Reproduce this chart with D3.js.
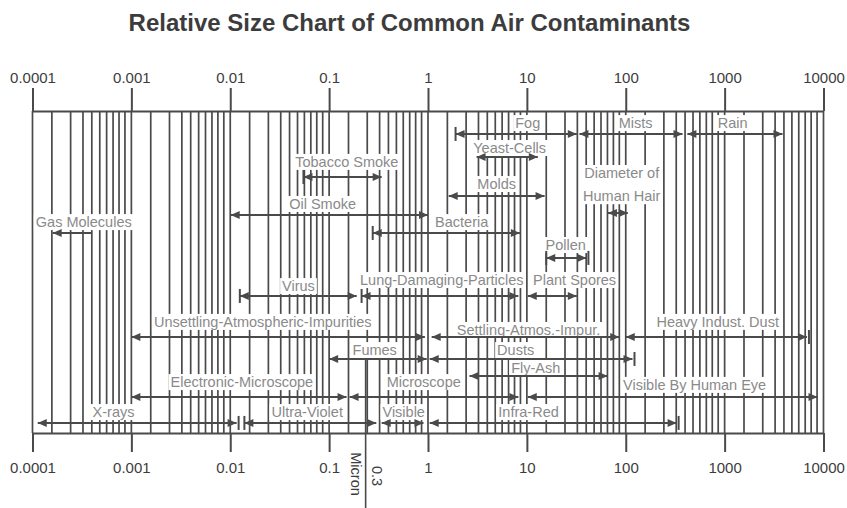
<!DOCTYPE html>
<html>
<head>
<meta charset="utf-8">
<script src="https://cdn.jsdelivr.net/npm/d3@7"></script>
<style>
  body { margin: 0; background: #fff; }
  text { font-family: "Liberation Sans", Arial, sans-serif; }
</style>
</head>
<body>
<svg id="chart" width="847" height="508"></svg>
<script>
// chart text + scale values (sizes in microns)
const title = 'Relative Size Chart of Common Air Contaminants';
const decades = [0.0001, 0.001, 0.01, 0.1, 1, 10, 100, 1000, 10000];
const tickLabels = ['0.0001', '0.001', '0.01', '0.1', '1', '10', '100', '1000', '10000'];
// the minor lines on this sheet are not on exact log steps
const gridSteps = [1.57, 2.43, 3.24, 3.98, 4.79, 5.62, 6.53, 7.5, 8.61];
const micronMark = 0.234;

const names = [
  'Fog', 'Mists', 'Rain', 'Yeast-Cells', 'Tobacco Smoke', 'Diameter of\nHuman Hair',
  'Molds', 'Oil Smoke', 'Gas Molecules', 'Bacteria', 'Pollen', 'Virus',
  'Lung-Damaging-Particles', 'Plant Spores', 'Unsettling-Atmospheric-Impurities',
  'Settling-Atmos.-Impur.', 'Heavy Indust. Dust', 'Fumes', 'Dusts', 'Fly-Ash',
  'Electronic-Microscope', 'Microscope', 'Visible By Human Eye', 'X-rays',
  'Ultra-Violet', 'Visible', 'Infra-Red'
];
const sizeFrom = [1.9, 34, 420, 3.1, 0.055, 66, 1.62, 0.0101, 0.00016, 0.276, 15.7, 0.0125,
  0.213, 10.2, 0.001, 1.09, 100, 0.1, 1.04, 2.63, 0.001, 0.161, 10.2, 0.000113, 0.0139, 0.34, 1.04];
const sizeTo = [32, 375, 3850, 12.9, 0.34, 105, 15.1, 1.0, 0.0004, 8.5, 40, 0.19,
  8.2, 32, 0.93, 86, 6800, 0.97, 117, 65.6, 0.15, 8.2, 8700, 0.0116, 0.30, 0.9, 327];
// row of the arrow and of its label (0 = top scale line, 16 = bottom scale line)
const row = [1.14, 1.14, 1.14, 2.29, 3.28, 5.07, 4.22, 5.17, 6.06, 6.06, 7.3, 9.19,
  9.19, 9.19, 11.23, 11.23, 11.23, 12.32, 12.32, 13.17, 14.21, 14.21, 14.21, 15.5, 15.5, 15.5, 15.5];
const labelAt = [10.2, 126, 1205, 6.7, 0.151, 91, 4.95, 0.086, 0.00033, 2.19, 24.7, 0.049,
  1.38, 30.4, 0.0213, 10.4, 851, 0.289, 7.7, 12.3, 0.0131, 0.905, 497, 0.00066, 0.06, 0.568, 10.4];
const labelRow = [0.6, 0.6, 0.6, 1.84, 2.53, 3.08, 3.63, 4.62, 5.52, 5.52, 6.66, 8.7,
  8.4, 8.4, 10.48, 10.88, 10.48, 11.88, 11.88, 12.77, 13.47, 13.47, 13.61, 14.96, 14.96, 14.96, 14.96];

// arrow ends: | = stop bar, < > = heads
const endStyle = {
  'Fog': '|<>', 'Tobacco Smoke': '|<>', 'Gas Molecules': '<', 'Bacteria': '|<>',
  'Pollen': '|<>|', 'Virus': '|<>', 'Lung-Damaging-Particles': '|<>',
  'Heavy Indust. Dust': '<>|', 'Dusts': '<>|', 'X-rays': '<>|',
  'Ultra-Violet': '|<>', 'Infra-Red': '<>|'
};

const items = names.map((n, i) => ({
  name: n, from: sizeFrom[i], to: sizeTo[i], row: row[i],
  labelAt: labelAt[i], labelRow: labelRow[i], ends: endStyle[n] || '<>'
}));

const ink = '#4a4a4a',
  labelInk = '#8a8a8a';

const svg = d3.select('#chart');
const x = d3.scaleLog().domain([0.0001, 10000]).range([32.5, 823.5]);
const y = d3.scaleLinear().domain([0, 16]).range([111, 433]);

svg.append('text')
  .attr('x', 409.5).attr('y', 31)
  .attr('text-anchor', 'middle')
  .attr('font-size', 24).attr('font-weight', 'bold')
  .attr('fill', '#3c3c3c')
  .text(title);

// grid lines
let gridVals = [];
decades.forEach(d => {
  gridVals.push(d);
  if (d < 10000) gridSteps.forEach(s => gridVals.push(s * d));
});

svg.append('g').attr('class', 'grid')
  .selectAll('line').data(gridVals).enter().append('line')
  .attr('x1', d => x(d)).attr('x2', d => x(d))
  .attr('y1', y(0)).attr('y2', y(16))
  .attr('stroke', ink).attr('stroke-width', 1.7);

// axes
const fmt = d => tickLabels[decades.indexOf(d)];
let topAxis = svg.append('g')
  .attr('transform', `translate(0, ${y(0)})`)
  .call(d3.axisTop(x).tickValues(decades).tickFormat(fmt).tickSize(23).tickSizeOuter(0).tickPadding(5));
let bottomAxis = svg.append('g')
  .attr('transform', `translate(0, ${y(16)})`)
  .call(d3.axisBottom(x).tickValues(decades).tickFormat(fmt).tickSize(19).tickSizeOuter(0).tickPadding(10));

[topAxis, bottomAxis].forEach(a => {
  a.attr('font-family', null).attr('font-size', null);
  a.select('.domain').attr('stroke', ink).attr('stroke-width', 2.2);
  a.selectAll('.tick line').attr('stroke', ink).attr('stroke-width', 2);
  a.selectAll('.tick text').attr('fill', '#3c3c3c').attr('font-size', 15);
});

// labels on white boxes
const boxes = svg.append('g').attr('class', 'boxes');
const labels = svg.append('g').attr('class', 'labels');

items.forEach(d => {
  let lines = d.name.split('\n');
  let t = labels.append('text')
    .attr('x', x(d.labelAt))
    .attr('y', y(d.labelRow))
    .attr('text-anchor', 'middle')
    .attr('dominant-baseline', 'central')
    .attr('font-size', 14.5)
    .attr('fill', labelInk);
  lines.forEach((l, i) => {
    t.append('tspan')
      .attr('x', x(d.labelAt))
      .attr('dy', i ? '1.6em' : 0)
      .text(l);
  });
  let bb = t.node().getBBox();
  boxes.append('rect')
    .attr('x', bb.x - 2).attr('y', bb.y)
    .attr('width', bb.width + 4).attr('height', bb.height)
    .attr('fill', '#fff');
});

// arrows
const arrows = svg.append('g').attr('class', 'arrows');
const headLen = 9, headHalf = 4, capHalf = 7;

items.forEach(d => {
  let x0 = x(d.from), x1 = x(d.to), yy = y(d.row);
  let g = arrows.append('g');
  g.append('line')
    .attr('x1', x0).attr('x2', x1).attr('y1', yy).attr('y2', yy)
    .attr('stroke', ink).attr('stroke-width', 2);
  let s = d.ends;
  if (s.includes('<')) {
    g.append('path')
      .attr('d', `M${x0},${yy}L${x0 + headLen},${yy - headHalf}L${x0 + headLen},${yy + headHalf}Z`)
      .attr('fill', ink);
  }
  if (s.includes('>')) {
    g.append('path')
      .attr('d', `M${x1},${yy}L${x1 - headLen},${yy - headHalf}L${x1 - headLen},${yy + headHalf}Z`)
      .attr('fill', ink);
  }
  if (s.startsWith('|')) {
    g.append('line')
      .attr('x1', x0).attr('x2', x0).attr('y1', yy - capHalf).attr('y2', yy + capHalf)
      .attr('stroke', ink).attr('stroke-width', 2);
  }
  if (s.endsWith('|')) {
    g.append('line')
      .attr('x1', x1 + 2).attr('x2', x1 + 2).attr('y1', yy - capHalf).attr('y2', yy + capHalf)
      .attr('stroke', ink).attr('stroke-width', 2);
  }
});

// 0.3 micron marker below the scale
const mx = x(micronMark);
svg.append('line')
  .attr('x1', mx).attr('x2', mx)
  .attr('y1', y(12.32)).attr('y2', 508)
  .attr('stroke', ink).attr('stroke-width', 1.6);

svg.append('text')
  .attr('transform', `translate(${mx - 10}, ${y(16) + 41}) rotate(90)`)
  .attr('text-anchor', 'middle')
  .attr('dominant-baseline', 'central')
  .attr('font-size', 14.5).attr('fill', '#3c3c3c')
  .text('Micron');

svg.append('text')
  .attr('transform', `translate(${mx + 11}, ${y(16) + 43}) rotate(90)`)
  .attr('text-anchor', 'middle')
  .attr('dominant-baseline', 'central')
  .attr('font-size', 14.5).attr('fill', '#3c3c3c')
  .text('0.3');
</script>
</body>
</html>
